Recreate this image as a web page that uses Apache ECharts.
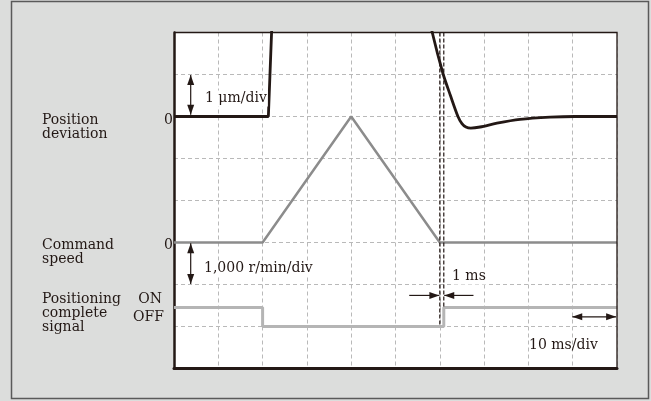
<!DOCTYPE html>
<html>
<head>
<meta charset="utf-8">
<script src="https://cdn.jsdelivr.net/npm/echarts@6/dist/echarts.min.js"></script>
<style>
html,body{margin:0;padding:0;background:#dcdddc;}
#c{width:651px;height:401px;}
</style>
</head>
<body>
<div id="c"></div>
<script>
// ---- data (time in ms, 10 ms/div) ----
const timeMin = 0, timeMax = 100, timeStep = 10;
const divMin = 0, divMax = 8;

// Position deviation (µm), 1 µm/div, zero at division 6
const posDevZeroDiv = 6, posDevPerDiv = 1;
const posDevTime1 = [0, 21.3, 22.1];
const posDevVal1  = [0, 0, 2.2];
const posDevTime2 = [57.4, 58.3, 60.7, 62.4, 64.1, 65.0, 65.9, 67.0, 69.1, 72.9, 78.1, 84.9, 90.5, 100];
const posDevVal2  = [2.5, 2.0, 1.03, 0.5, 0, -0.17, -0.25, -0.275, -0.25, -0.16, -0.07, -0.017, 0, 0];

// Command speed (r/min), 1000 r/min/div, zero at division 3
const speedZeroDiv = 3, speedPerDiv = 1000;
const speedTime = [0, 20, 40, 60, 100];
const speedVal  = [0, 0, 3000, 0, 0];

// Positioning complete signal (1 = ON, 0 = OFF)
const sigOffDiv = 1.0, sigOnDiv = 1.45;
const sigTime  = [0, 20, 60.9, 100];
const sigState = [1, 0, 1, 1];

// Dashed markers (ms): command end and signal ON
const markerTimes = [60, 60.9];

const INK = '#231815';
const toPairs = (ts, vs, f) => ts.map((t, i) => [t, f(vs[i])]);

const option = {
  backgroundColor: '#dcdddc',
  animation: false,
  grid: {left: 174, top: 32.5, width: 443, height: 336, show: true,
         backgroundColor: '#ffffff', borderWidth: 0},
  xAxis: {type: 'value', min: timeMin, max: timeMax, interval: timeStep,
    axisLine: {show: true, onZero: false, lineStyle: {color: INK, width: 3}},
    axisTick: {show: false}, axisLabel: {show: false},
    splitLine: {show: true, lineStyle: {color: '#b9b9b9', width: 1, type: [4, 3]}}},
  yAxis: {type: 'value', min: divMin, max: divMax, interval: 1,
    axisLine: {show: true, onZero: false, lineStyle: {color: INK, width: 2.5}},
    axisTick: {show: false}, axisLabel: {show: false},
    splitLine: {show: true, lineStyle: {color: '#b9b9b9', width: 1, type: [4, 3]}}},
  series: [
    {type: 'line', name: 'cmd', data: toPairs(speedTime, speedVal, v => speedZeroDiv + v / speedPerDiv),
     symbol: 'none', lineStyle: {color: '#8c8c8c', width: 2.5}, z: 3},
    {type: 'line', name: 'sig', step: 'end', data: toPairs(sigTime, sigState, s => s ? sigOnDiv : sigOffDiv),
     symbol: 'none', lineStyle: {color: '#b5b5b5', width: 3}, z: 3},
    {type: 'line', name: 'm1', data: [[markerTimes[0], divMax], [markerTimes[0], sigOffDiv]],
     symbol: 'none', lineStyle: {color: INK, width: 1.2, type: [4, 2]}, z: 4},
    {type: 'line', name: 'm2', data: [[markerTimes[1], divMax], [markerTimes[1], sigOnDiv]],
     symbol: 'none', lineStyle: {color: INK, width: 1.2, type: [4, 2]}, z: 4},
    {type: 'line', name: 'pos1', data: toPairs(posDevTime1, posDevVal1, v => posDevZeroDiv + v / posDevPerDiv),
     symbol: 'none', clip: true, lineStyle: {color: INK, width: 2.8}, z: 5},
    {type: 'line', name: 'pos2', data: toPairs(posDevTime2, posDevVal2, v => posDevZeroDiv + v / posDevPerDiv),
     symbol: 'none', smooth: 0.3, clip: true, lineStyle: {color: INK, width: 2.8}, z: 5}
  ]
};

const chart = echarts.init(document.getElementById('c'), null, {renderer: 'canvas'});
chart.setOption(option);

const px = (t, d) => chart.convertToPixel({gridIndex: 0}, [t, d]);
const FONT = '14px "DejaVu Serif", serif';
const g = [];
function txt(s, x, y, align, bg) {
  const style = {text: s, x: x, y: y, font: FONT, fill: INK, align: align || 'left', verticalAlign: 'middle'};
  if (bg) { style.backgroundColor = '#ffffff'; style.padding = [1, 1, 1, 1]; }
  g.push({type: 'text', z: 100, silent: true, style: style});
}
function head(tip, from) {
  const dx = tip[0] - from[0], dy = tip[1] - from[1];
  const L = Math.hypot(dx, dy), ux = dx / L, uy = dy / L;
  const len = 10, hw = 3.5;
  const bx = tip[0] - ux * len, by = tip[1] - uy * len;
  g.push({type: 'polygon', z: 101, silent: true,
    shape: {points: [tip, [bx - uy * hw, by + ux * hw], [bx + uy * hw, by - ux * hw]]},
    style: {fill: INK}});
}
function arrow(a, b, both) {
  const p1 = px(a[0], a[1]), p2 = px(b[0], b[1]);
  g.push({type: 'line', z: 101, silent: true, shape: {x1: p1[0], y1: p1[1], x2: p2[0], y2: p2[1]},
    style: {stroke: INK, lineWidth: 1.2}});
  head(p2, p1);
  if (both) head(p1, p2);
}

// panel border
g.push({type: 'rect', z: 0, silent: true, shape: {x: 11.5, y: 1.5, width: 637, height: 397},
  style: {fill: 'none', stroke: '#5a5a5a', lineWidth: 1.5}});

// top and right frame of the plot
const tl = px(timeMin, divMax), tr = px(timeMax, divMax), br = px(timeMax, divMin);
g.push({type: 'polyline', z: 99, silent: true, shape: {points: [tl, tr, br]},
  style: {fill: 'none', stroke: INK, lineWidth: 1.3}});

// left labels
txt('Position', 42, 120.5); txt('deviation', 42, 134.3);
txt('0', 164, 120);
txt('Command', 42, 245.8); txt('speed', 42, 259.8);
txt('0', 164, 245.8);
txt('Positioning', 42, 299.1); txt('complete', 42, 313.1); txt('signal', 42, 327.5);
txt('ON', 162, 299.1, 'right'); txt('OFF', 164, 317.5, 'right');

// scale annotations
arrow([3.77, 6.04], [3.77, 6.99], true);
txt('1 μm/div', 204, 98.5, 'left', true);
arrow([3.77, 2.98], [3.77, 2.01], true);
txt('1,000 r/min/div', 203, 268.8, 'left', true);
arrow([53.1, 1.74], [59.9, 1.74], false);
arrow([67.6, 1.74], [61.0, 1.74], false);
txt('1 ms', 451, 276.5, 'left', true);
arrow([89.9, 1.23], [99.8, 1.23], true);
txt('10 ms/div', 529, 345.5, 'left', false);

chart.setOption({graphic: g});
</script>
</body>
</html>
